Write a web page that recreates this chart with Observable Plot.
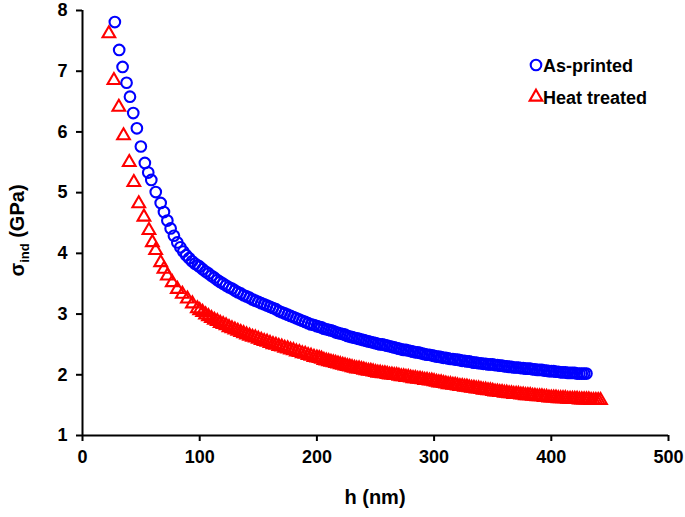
<!DOCTYPE html>
<html><head><meta charset="utf-8">
<script src="https://cdn.jsdelivr.net/npm/d3@7"></script>
<script src="https://cdn.jsdelivr.net/npm/@observablehq/plot@0.6"></script>
<style>
body{margin:0;background:#fff;}
#wrap{position:relative;width:685px;height:517px;}
</style></head><body><div id="wrap"></div>
<script>
// As-printed (blue circles): indentation depth h (nm) and sigma_ind (GPa)
const asPrintedH = [27.6,31.3,34.2,37.6,40.5,43.3,46.4,49.8,53.2,56.1,58.7,62.5,66.7,69.5,72.4,75.2,78.0,80.9,83.5,86.0,88.5,91.0,93.5,96.0,98.5,
100,102.5,105,107.5,110,112.5,115,117.5,120,122.5,125,127.5,130,132.5,135,137.5,140,142.5,145,147.5,150,152.5,155,157.5,160,162.5,165,167.5,170,172.5,175,177.5,180,182.5,185,187.5,190,192.5,195,197.5,
200,202,204,206,208,210,212,214,216,218,220,222,224,226,228,230,232,234,236,238,240,242,244,246,248,250,252,254,256,258,260,262,264,266,268,270,272,274,276,278,280,282,284,286,288,290,292,294,296,298,
300,302,304,306,308,310,312,314,316,318,320,322,324,326,328,330,332,334,336,338,340,342,344,346,348,350,352,354,356,358,360,362,364,366,368,370,372,374,376,378,380,382,384,386,388,390,392,394,396,398,
400,402,404,406,408,410,412,414,416,418,420,422,424,426,428,430];
const asPrintedSigma = [7.81,7.35,7.07,6.81,6.58,6.31,6.06,5.76,5.49,5.33,5.21,5.01,4.83,4.68,4.54,4.41,4.29,4.18,4.10,4.03,3.97,3.92,3.87,3.83,3.80,
3.78,3.74,3.70,3.67,3.63,3.60,3.56,3.53,3.50,3.47,3.44,3.42,3.39,3.36,3.34,3.31,3.29,3.27,3.24,3.22,3.20,3.18,3.16,3.14,3.12,3.10,3.08,3.05,3.03,3.01,2.99,2.97,2.95,2.93,2.91,2.89,2.87,2.85,2.83,2.82,
2.80,2.79,2.78,2.76,2.75,2.74,2.73,2.72,2.70,2.69,2.68,2.67,2.66,2.64,2.63,2.62,2.61,2.60,2.59,2.58,2.57,2.56,2.55,2.54,2.53,2.52,2.51,2.50,2.50,2.49,2.48,2.47,2.46,2.45,2.44,2.43,2.42,2.41,2.41,2.40,2.39,2.38,2.37,2.37,2.36,2.35,2.34,2.33,2.33,2.32,
2.31,2.30,2.30,2.29,2.28,2.28,2.27,2.26,2.26,2.25,2.25,2.24,2.23,2.23,2.22,2.22,2.21,2.20,2.20,2.19,2.19,2.18,2.18,2.17,2.17,2.17,2.16,2.16,2.15,2.15,2.14,2.14,2.13,2.13,2.12,2.12,2.12,2.11,2.11,2.10,2.10,2.10,2.09,2.09,2.08,2.08,2.08,2.07,2.07,2.06,
2.06,2.06,2.05,2.05,2.04,2.04,2.04,2.03,2.03,2.03,2.03,2.02,2.02,2.02,2.02,2.02];

// Heat treated (red triangles)
const heatTreatedH = [22.5,26.8,31.0,35.0,39.9,43.8,48.0,52.4,56.7,59.6,62.4,66.7,69.5,72.4,76.6,80.9,85.2,89.5,93.8,98.0,
100,102.5,105,107.5,110,112.5,115,117.5,120,122.5,125,127.5,130,132.5,135,137.5,140,142.5,145,147.5,150,152.5,155,157.5,160,162.5,165,167.5,170,172.5,175,177.5,180,182.5,185,187.5,190,192.5,195,197.5,
200,202,204,206,208,210,212,214,216,218,220,222,224,226,228,230,232,234,236,238,240,242,244,246,248,250,252,254,256,258,260,262,264,266,268,270,272,274,276,278,280,282,284,286,288,290,292,294,296,298,
300,302,304,306,308,310,312,314,316,318,320,322,324,326,328,330,332,334,336,338,340,342,344,346,348,350,352,354,356,358,360,362,364,366,368,370,372,374,376,378,380,382,384,386,388,390,392,394,396,398,
400,402,404,406,408,410,412,414,416,418,420,422,424,426,428,430,432,434,436,438,440,442];
const heatTreatedSigma = [7.62,6.85,6.41,5.94,5.50,5.17,4.82,4.60,4.38,4.18,4.05,3.85,3.74,3.63,3.52,3.41,3.33,3.25,3.17,3.09,
3.06,3.03,2.99,2.96,2.93,2.90,2.88,2.85,2.83,2.81,2.78,2.76,2.74,2.72,2.70,2.68,2.66,2.64,2.62,2.61,2.59,2.57,2.55,2.54,2.52,2.50,2.49,2.47,2.46,2.44,2.43,2.41,2.40,2.38,2.37,2.35,2.34,2.32,2.31,2.29,
2.28,2.27,2.26,2.24,2.23,2.22,2.21,2.20,2.19,2.18,2.17,2.16,2.15,2.14,2.13,2.12,2.11,2.10,2.10,2.09,2.08,2.07,2.06,2.06,2.05,2.04,2.03,2.03,2.02,2.02,2.01,2.00,2.00,1.99,1.99,1.98,1.97,1.97,1.96,1.96,1.95,1.94,1.94,1.93,1.93,1.92,1.91,1.91,1.90,1.90,
1.89,1.88,1.87,1.87,1.86,1.85,1.84,1.84,1.83,1.83,1.82,1.81,1.81,1.80,1.80,1.79,1.78,1.78,1.77,1.77,1.76,1.75,1.75,1.74,1.74,1.73,1.72,1.72,1.71,1.71,1.70,1.70,1.69,1.69,1.68,1.68,1.68,1.67,1.67,1.66,1.66,1.66,1.65,1.65,1.64,1.64,1.64,1.63,1.63,1.62,
1.62,1.62,1.62,1.61,1.61,1.61,1.61,1.60,1.60,1.60,1.60,1.60,1.59,1.59,1.59,1.59,1.59,1.58,1.58,1.58,1.58,1.58];

const seriesNames = ["As-printed", "Heat treated"];
const seriesColors = ["#0000ff", "#ff0000"];
const seriesSymbols = ["circle", "triangle"];
const xTicks = [0, 100, 200, 300, 400, 500];
const yTicks = [1, 2, 3, 4, 5, 6, 7, 8];
const xLabel = "h (nm)";

const asPrinted = asPrintedH.map((h, i) => ({h, s: asPrintedSigma[i]}));
const heatTreated = heatTreatedH.map((h, i) => ({h, s: heatTreatedSigma[i]}));

const FONT = "'Liberation Sans', Arial, Helvetica, sans-serif";
const R_CIRCLE = 5.3, R_TRI = 4.7, SW = 2.1;
const plot = Plot.plot({
  width: 685, height: 517,
  marginLeft: 82, marginRight: 17, marginTop: 10, marginBottom: 82,
  style: {fontFamily: FONT, fontSize: "18px", fontWeight: "bold", background: "#fff", color: "#000"},
  x: {domain: [0, 500]},
  y: {domain: [1, 8]},
  marks: [
    Plot.axisX({ticks: xTicks, tickSize: 6, tickPadding: 9, label: null, strokeWidth: 2, tickFormat: d => String(d)}),
    Plot.axisY({ticks: yTicks, tickSize: 6, tickPadding: 9, label: null, strokeWidth: 2, tickFormat: d => String(d)}),
    Plot.ruleX([0], {strokeWidth: 2}),
    Plot.ruleY([1], {strokeWidth: 2}),
    Plot.dot(heatTreated, {x: "h", y: "s", symbol: seriesSymbols[1], r: R_TRI, stroke: seriesColors[1], strokeWidth: SW, fill: "none"}),
    Plot.dot(asPrinted, {x: "h", y: "s", symbol: seriesSymbols[0], r: R_CIRCLE, stroke: seriesColors[0], strokeWidth: SW, fill: "none"})
  ]
});
document.getElementById("wrap").appendChild(plot);

const svg = d3.select(plot);
const xs = plot.scale("x"), ys = plot.scale("y");
const xMid = (xs.range[0] + xs.range[1]) / 2;
const yMid = (ys.range[0] + ys.range[1]) / 2;

// x-axis title
svg.append("text").attr("x", xMid).attr("y", 504).attr("text-anchor", "middle")
  .attr("font-size", 20).attr("font-weight", "bold").attr("font-family", FONT).attr("fill", "#000")
  .text(xLabel);

// y-axis title with subscript
const yt = svg.append("text").attr("transform", `translate(24,${yMid + 8}) rotate(-90)`)
  .attr("text-anchor", "middle").attr("font-size", 20).attr("font-weight", "bold")
  .attr("font-family", FONT).attr("fill", "#000");
yt.append("tspan").text("σ");
yt.append("tspan").attr("font-size", 13).attr("dy", 5).text("ind");
yt.append("tspan").attr("dy", -5).text(" (GPa)");

// legend
const legend = svg.append("g").attr("font-family", FONT).attr("font-size", 18).attr("font-weight", "bold")
  .attr("text-anchor", "start");
const legY = [65, 97];
seriesNames.forEach((name, i) => {
  const g = legend.append("g").attr("transform", `translate(536,${legY[i]})`);
  const r = i === 0 ? R_CIRCLE : R_TRI;
  const type = i === 0 ? d3.symbolCircle : d3.symbolTriangle;
  g.append("path").attr("d", d3.symbol(type, Math.PI * r * r)()).attr("fill", "none")
    .attr("stroke", seriesColors[i]).attr("stroke-width", SW);
  g.append("text").attr("x", 7).attr("y", 6.5).attr("text-anchor", "start").attr("fill", "#000").text(name);
});
</script>
</body></html>
